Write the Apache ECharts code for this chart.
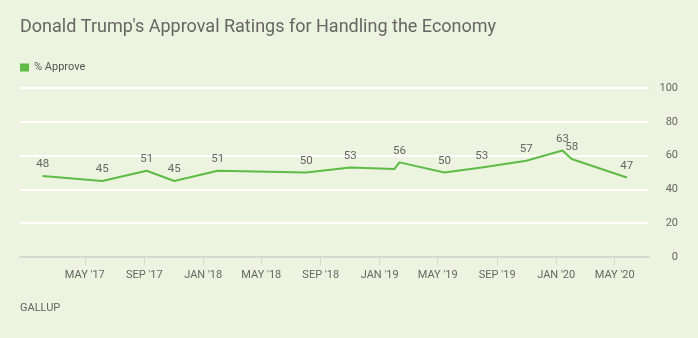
<!DOCTYPE html>
<html>
<head>
<meta charset="utf-8">
<script src="https://cdn.jsdelivr.net/npm/echarts@6/dist/echarts.min.js"></script>
<style>
html,body{margin:0;padding:0;background:#ECF3DE;}
#c{width:698px;height:338px;}
</style>
</head>
<body>
<div id="c"></div>
<script>
// Data
var dates = ['2017-02-03','2017-06-06','2017-09-06','2017-11-02','2018-01-31','2018-08-02','2018-11-01','2019-01-31','2019-02-11','2019-05-15','2019-07-31','2019-10-31','2020-01-14','2020-02-02','2020-05-26'];
var approve = [48,45,51,45,51,50,53,52,56,50,53,57,63,58,47];
var showLabel = [true,true,true,true,true,true,true,false,true,true,true,true,true,true,true];
var tickDates = ['2017-05-01','2017-09-01','2018-01-01','2018-05-01','2018-09-01','2019-01-01','2019-05-01','2019-09-01','2020-01-01','2020-05-01'];
var monthNames = ['JAN','FEB','MAR','APR','MAY','JUN','JUL','AUG','SEP','OCT','NOV','DEC'];
var yTicks = [0,20,40,60,80,100];

function ts(s){var p=s.split('-');return Date.UTC(+p[0],+p[1]-1,+p[2]);}
var tickTs = tickDates.map(ts);
var seriesData = dates.map(function(d,i){
  return {value:[ts(d),approve[i]], label:{show:showLabel[i]}};
});

var chart = echarts.init(document.getElementById('c'), null, {renderer:'canvas'});
var txt = '#666666';
var green = '#5DBB46';
chart.setOption({
  animation:false,
  backgroundColor:'#ECF3DE',
  textStyle:{fontFamily:'Roboto'},
  title:{
    text:"Donald Trump's Approval Ratings for Handling the Economy",
    left:20, top:18, padding:0,
    textStyle:{fontFamily:'Roboto',fontSize:18,fontWeight:'normal',color:'#666666',lineHeight:18}
  },
  legend:{
    left:20, top:62, padding:0,
    itemWidth:9, itemHeight:8, itemGap:10,
    icon:'rect',
    textStyle:{fontFamily:'Roboto',fontSize:11,color:'#555555'},
    data:[{name:'% Approve'}]
  },
  graphic:[{
    type:'text', left:20, top:303,
    style:{text:'GALLUP', fontFamily:'Roboto', fontSize:11, fill:'#666666'}
  }],
  grid:{left:20, right:49, top:88, bottom:81, containLabel:false},
  xAxis:{
    type:'value',
    min:ts('2016-12-18'), max:ts('2020-07-11'),
    axisLine:{show:true, lineStyle:{color:'#D6D9D0', width:2}},
    axisTick:{show:true, customValues:tickTs, length:8, lineStyle:{color:'#D6D9D0', width:1}},
    axisLabel:{
      customValues:tickTs, color:txt, fontSize:11, fontFamily:'Roboto', margin:13,
      formatter:function(v){var d=new Date(v);return monthNames[d.getUTCMonth()]+" '"+String(d.getUTCFullYear()).slice(2);}
    },
    splitLine:{show:false}
  },
  yAxis:{
    type:'value', position:'right', min:yTicks[0], max:yTicks[yTicks.length-1], interval:20,
    axisLine:{show:false}, axisTick:{show:false},
    axisLabel:{color:txt, fontSize:11, fontFamily:'Roboto', align:'right', margin:29},
    splitLine:{show:true, lineStyle:{color:'#FFFFFF', width:2}}
  },
  series:[{
    name:'% Approve', type:'line', data:seriesData,
    symbol:'circle', symbolSize:1,
    itemStyle:{color:green},
    lineStyle:{color:green, width:2},
    label:{show:true, position:'top', distance:5, color:txt, fontSize:11.5, fontFamily:'Roboto'},
    emphasis:{disabled:true}
  }]
});
</script>
</body>
</html>
